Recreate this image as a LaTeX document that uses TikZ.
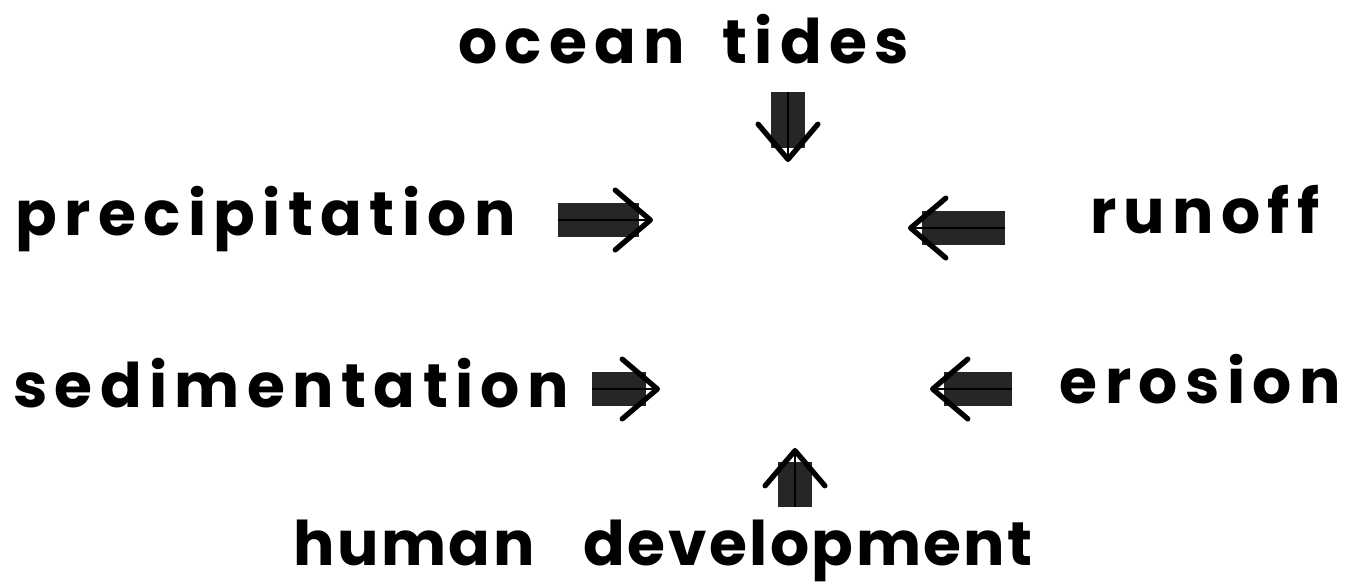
\documentclass[tikz,border=0pt]{standalone}
\usepackage{fontspec}
\setmainfont{Poppins}
\usetikzlibrary{arrows.meta}
\tikzset{
  word/.style={font=\fontsize{35}{40}\selectfont\bfseries\addfontfeature{LetterSpace=12}, inner sep=0pt},
  tight/.style={word, font=\fontsize{35}{40}\selectfont\bfseries\addfontfeature{LetterSpace=4}},
  push/.style={line width=0.8pt, -{Straight Barb[round, length=20pt, width=34pt, line width=3pt]},
    preaction={draw=black!85, line width=19pt, arrows=-, shorten >=8pt}},
}
\begin{document}
\begin{tikzpicture}
\useasboundingbox (0,0) rectangle (27.18,-11.74);
% the six forces
\node[word, anchor=base west] (tides) at (9.16,-1.26) {ocean\hspace{0.6em}tides};
\node[word, anchor=base west] (prec) at (0.3,-4.7) {precipitation};
\node[word, anchor=base east] (run) at (26.4,-4.66) {runoff};
\node[word, anchor=base west] (sed) at (0.26,-8.14) {sedimentation};
\node[word, anchor=base east] (ero) at (26.82,-8.06) {erosion};
\node[tight, anchor=base west] (hum) at (5.86,-11.3) {human\hspace{0.8em}development};
% arrow tips
\coordinate (tidesT) at (15.76,-3.24);
\coordinate (precT) at (13.06,-4.4);
\coordinate (runT) at (18.16,-4.56);
\coordinate (sedT) at (13.2,-7.78);
\coordinate (eroT) at (18.6,-7.78);
\coordinate (humT) at (15.9,-8.96);
% arrows
\draw[push, shorten <=16pt] (tides.south -| tidesT) -- (tidesT);
\draw[push, shorten <=24pt] (prec.east |- precT) -- (precT);
\draw[push, shorten <=48pt] (run.west |- runT) -- (runT);
\draw[push, shorten <=13pt] (sed.east |- sedT) -- (sedT);
\draw[push, shorten <=27pt] (ero.west |- eroT) -- (eroT);
\draw[push, shorten <=7pt] (hum.north -| humT) -- (humT);
\end{tikzpicture}
\end{document}
